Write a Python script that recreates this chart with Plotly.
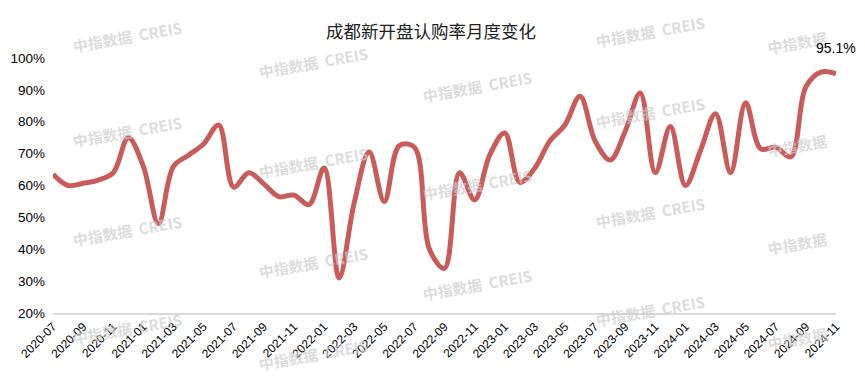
import plotly.graph_objects as go

months = [
    "2020-07", "2020-08", "2020-09", "2020-10", "2020-11", "2020-12",
    "2021-01", "2021-02", "2021-03", "2021-04", "2021-05", "2021-06",
    "2021-07", "2021-08", "2021-09", "2021-10", "2021-11", "2021-12",
    "2022-01", "2022-02", "2022-03", "2022-04", "2022-05", "2022-06",
    "2022-07", "2022-08", "2022-09", "2022-10", "2022-11", "2022-12",
    "2023-01", "2023-02", "2023-03", "2023-04", "2023-05", "2023-06",
    "2023-07", "2023-08", "2023-09", "2023-10", "2023-11", "2023-12",
    "2024-01", "2024-02", "2024-03", "2024-04", "2024-05", "2024-06",
    "2024-07", "2024-08", "2024-09", "2024-10", "2024-11",
]

rate = [
    63.5, 60.0, 60.7, 61.7, 64.0, 75.0,
    66.0, 48.0, 66.0, 69.5, 73.0, 79.0,
    59.5, 64.0, 60.5, 56.5, 57.0, 54.0,
    65.5, 31.0, 54.5, 70.5, 55.0, 72.5,
    72.0, 40.0, 34.0, 64.0, 55.5, 69.5,
    76.5, 61.0, 65.5, 74.0, 79.0, 88.0,
    74.0, 68.0, 77.0, 89.0, 64.0, 78.5,
    60.0, 71.0, 82.5, 64.0, 86.0, 71.5,
    72.0, 69.0, 91.0, 95.6, 95.1,
]

tick_labels = months[::2]
y_ticks = [20, 30, 40, 50, 60, 70, 80, 90, 100]
y_tick_text = ["20%", "30%", "40%", "50%", "60%", "70%", "80%", "90%", "100%"]
title_text = "成都新开盘认购率月度变化"
last_label = "95.1%"

# page has an 8px body margin, so the figure is sized/offset to compensate
OFF = 8
W, H = 865 - 2 * OFF, 383 - 2 * OFF
PL, PR, PT, PB = 53, 836, 58, 313          # plot area in window pixels
L, T = PL - OFF, PT - OFF
R = W - (PR - OFF)
B = H - (PB - OFF)
pw, ph = PR - PL, PB - PT

fig = go.Figure()
fig.add_trace(go.Scatter(
    x=months, y=rate, mode="lines",
    line=dict(color="#C95B5B", width=5, shape="spline", smoothing=1.0),
    hoverinfo="x+y", showlegend=False,
))

# watermark texts (window pixel centres converted to paper coords)
wm_full = "<b>中指数据  CREIS</b>"
wm_short = "<b>中指数据</b>"
wm_positions = [
    (127, 36, wm_full), (127, 131, wm_full), (127, 230, wm_full), (127, 328, wm_full),
    (313, 62, wm_full), (313, 162, wm_full), (313, 262, wm_full), (313, 354, wm_full),
    (477, 86, wm_full), (477, 184, wm_full), (477, 284, wm_full),
    (650, 32, wm_full), (650, 112, wm_full), (650, 212, wm_full), (650, 310, wm_full),
    (797, 42, wm_short), (797, 145, wm_short), (797, 243, wm_short), (797, 338, wm_short),
]
for px, py, t in wm_positions:
    fig.add_annotation(
        x=(px - PL) / pw, y=(PB - py) / ph, xref="paper", yref="paper",
        text=t, showarrow=False, textangle=-10,
        font=dict(family="Noto Sans CJK SC", size=15, color="rgba(205,205,205,0.7)"),
        xanchor="center", yanchor="middle",
    )

fig.add_annotation(
    x=months[-1], y=rate[-1], text=last_label, showarrow=False,
    xanchor="center", yanchor="bottom", yshift=16,
    font=dict(family="Liberation Sans, Arial", size=14, color="#000000"),
)

fig.update_layout(
    width=W, height=H,
    margin=dict(l=L, r=R, t=T, b=B, autoexpand=False),
    paper_bgcolor="white", plot_bgcolor="white",
    title=dict(text=title_text, x=(431 - OFF) / W, xref="container", xanchor="center",
               y=1 - (32 - OFF) / H, yref="container", yanchor="middle",
               font=dict(family="Noto Sans CJK SC", size=17.5, color="#222222")),
    xaxis=dict(
        type="category", range=[0, len(months) - 1], automargin=False,
        tickmode="array", tickvals=tick_labels, ticktext=tick_labels,
        tickangle=-45, showgrid=False, zeroline=False,
        showline=True, linecolor="#d9d9d9", linewidth=2,
        ticks="", tickfont=dict(family="Liberation Sans, Arial", size=12, color="#000000"),
    ),
    yaxis=dict(
        range=[20, 100], tickmode="array", tickvals=y_ticks, ticktext=y_tick_text,
        automargin=False,
        showgrid=False, zeroline=False, showline=False, ticks="",
        ticklabelstandoff=7,
        tickfont=dict(family="Liberation Sans, Arial", size=13.5, color="#000000"),
    ),
)

fig.write_html("out.html")
